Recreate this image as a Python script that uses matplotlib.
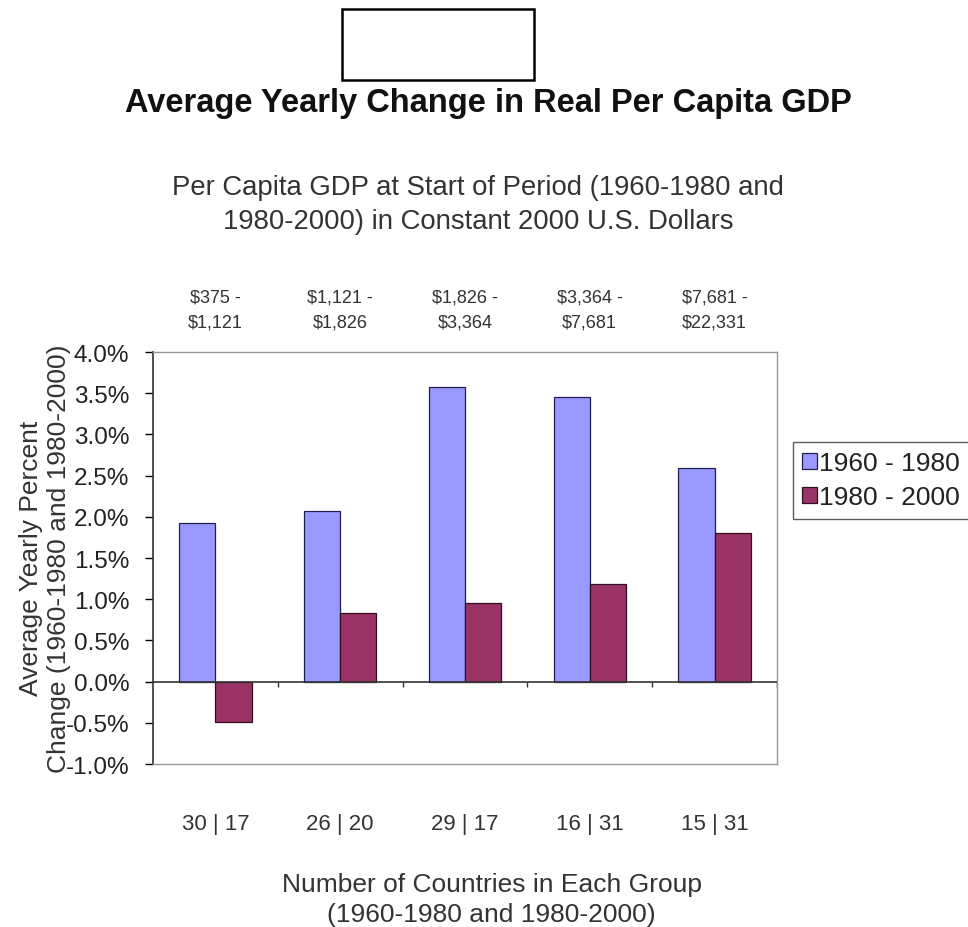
import matplotlib
matplotlib.use("Agg")
import matplotlib.pyplot as plt
from matplotlib.patches import Rectangle
import numpy as np

plt.rcParams['font.family'] = ['Liberation Sans', 'DejaVu Sans']

# data
count_labels = ["30 | 17", "26 | 20", "29 | 17", "16 | 31", "15 | 31"]
income_ranges = ["$375 -\n$1,121", "$1,121 -\n$1,826", "$1,826 -\n$3,364",
                 "$3,364 -\n$7,681", "$7,681 -\n$22,331"]
series_names = ["1960 - 1980", "1980 - 2000"]
growth_1960_1980 = [1.93, 2.07, 3.58, 3.46, 2.59]
growth_1980_2000 = [-0.49, 0.83, 0.96, 1.19, 1.80]
y_ticks = [-1.0, -0.5, 0.0, 0.5, 1.0, 1.5, 2.0, 2.5, 3.0, 3.5, 4.0]

fig = plt.figure(figsize=(9.68, 9.28), dpi=100)
ax = fig.add_axes([0.158, 0.1756, 0.6446, 0.444])

x = np.arange(len(count_labels))
w = 0.29
ax.bar(x - w / 2, growth_1960_1980, w, color="#9999ff", edgecolor="#202050",
       linewidth=0.9, label=series_names[0], zorder=3)
ax.bar(x + w / 2, growth_1980_2000, w, color="#993366", edgecolor="#301020",
       linewidth=0.9, label=series_names[1], zorder=3)

ax.set_xlim(-0.5, len(count_labels) - 0.5)
ax.set_ylim(y_ticks[0], y_ticks[-1])
ax.set_yticks(y_ticks)
ax.set_yticklabels([f"{v:.1f}%" for v in y_ticks], fontsize=17.5, color="#222222")
ax.tick_params(axis="y", direction="out", length=6, width=1, pad=11)

# category labels at the bottom, no ticks
ax.set_xticks(x)
ax.set_xticklabels(count_labels, fontsize=16, color="#333333")
ax.tick_params(axis="x", length=0, pad=35)

# zero line with boundary ticks
ax.axhline(0, color="#333333", linewidth=1.2, zorder=4)
bounds = np.arange(len(count_labels) + 1) - 0.5
ax.vlines(bounds[1:], -0.07, 0, color="#333333", linewidth=1.0, zorder=4)

# income ranges on top
top = ax.secondary_xaxis("top")
top.set_xticks(x)
top.set_xticklabels(income_ranges, fontsize=13, color="#333333", linespacing=1.6)
top.tick_params(length=0, pad=15.5)
top.spines["top"].set_visible(False)

for s in ["top", "right", "bottom"]:
    ax.spines[s].set_color("#999999")
    ax.spines[s].set_linewidth(1.0)
ax.spines["left"].set_color("#333333")
ax.spines["left"].set_linewidth(1.2)

fig.text(0.0465, 0.398, "Average Yearly Percent\nChange (1960-1980 and 1980-2000)",
         rotation=90, ha="center", va="center", fontsize=19, color="#333333",
         linespacing=1.25)

fig.text(0.508, 0.03, "Number of Countries in Each Group\n(1960-1980 and 1980-2000)",
         ha="center", va="center", fontsize=19, color="#333333", linespacing=1.3)

fig.text(0.505, 0.889, "Average Yearly Change in Real Per Capita GDP",
         ha="center", va="center", fontsize=23.5, fontweight="bold", color="#111111")
fig.text(0.494, 0.7786, "Per Capita GDP at Start of Period (1960-1980 and\n1980-2000) in Constant 2000 U.S. Dollars",
         ha="center", va="center", fontsize=19.8, color="#333333", linespacing=1.4)

# empty box at the top
fig.patches.append(Rectangle((0.3533, 0.9127), 0.198, 0.0765, transform=fig.transFigure,
                             fill=False, edgecolor="black", linewidth=1.8))

leg = fig.legend(loc="upper left", bbox_to_anchor=(0.819, 0.5227), fontsize=19,
                 frameon=True, fancybox=False, borderpad=0.36, labelspacing=0.37,
                 handlelength=0.55, handleheight=0.55, handletextpad=0.1,
                 borderaxespad=0)
leg.get_frame().set_edgecolor("#333333")
leg.get_frame().set_linewidth(1.0)
for t in leg.get_texts():
    t.set_color("#222222")

fig.savefig("out.png", dpi=100)
